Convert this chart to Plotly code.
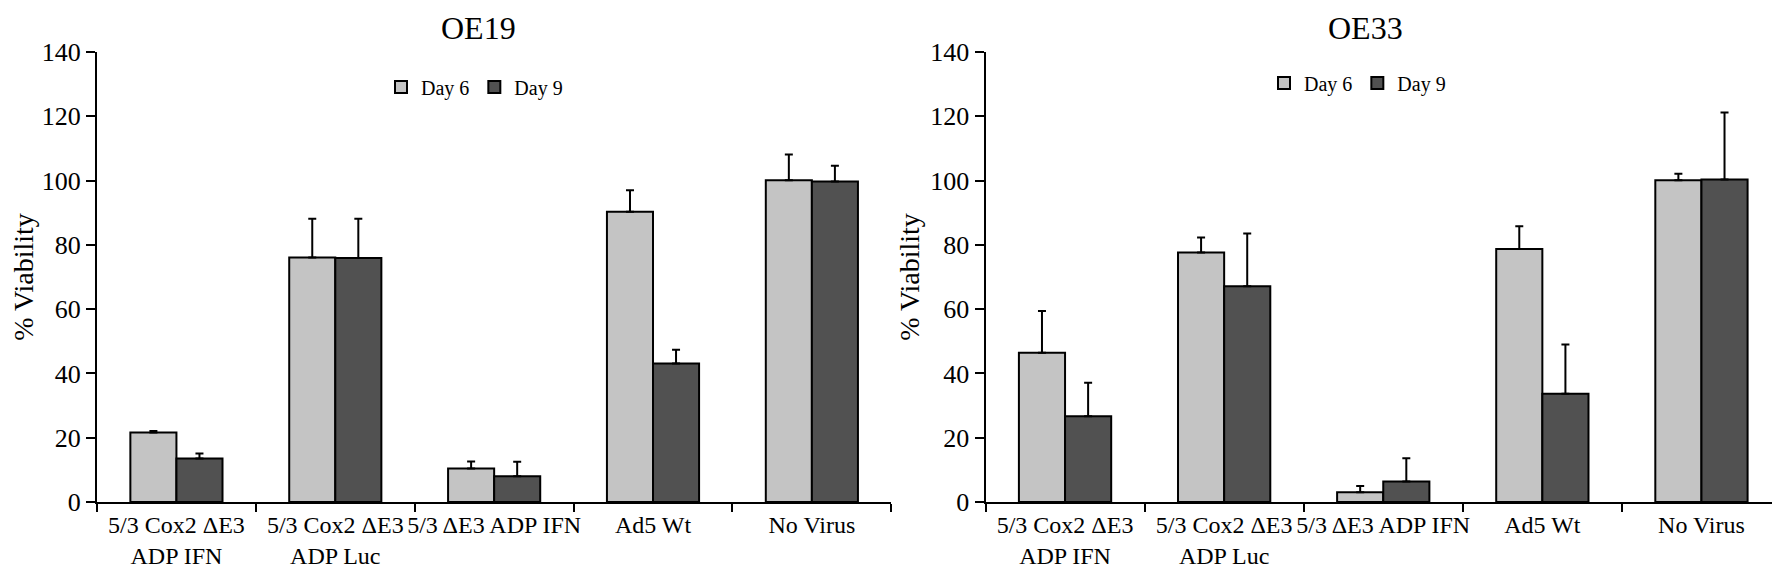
import plotly.graph_objects as go

# ---------------- data ----------------
categories = ["5/3 Cox2 ΔE3<br>ADP IFN", "5/3 Cox2 ΔE3<br>ADP Luc",
              "5/3 ΔE3 ADP IFN", "Ad5 Wt", "No Virus"]
series_names = ["Day 6", "Day 9"]
panel_titles = ["OE19", "OE33"]

oe19_day6 = [21.6, 76.1, 10.4, 90.3, 100.1]
oe19_day6_err = [0.5, 12.0, 2.2, 6.7, 8.0]
oe19_day9 = [13.5, 75.9, 8.0, 43.1, 99.7]
oe19_day9_err = [1.6, 12.2, 4.5, 4.3, 4.9]

oe33_day6 = [46.4, 77.6, 3.0, 78.7, 100.1]
oe33_day6_err = [13.0, 4.7, 2.0, 7.1, 2.0]
oe33_day9 = [26.7, 67.1, 6.4, 33.7, 100.3]
oe33_day9_err = [10.4, 16.4, 7.2, 15.3, 20.9]

y_ticks = [0, 20, 40, 60, 80, 100, 120, 140]
y_title = "% Viability"

# ---------------- style ----------------
W, H = 1780, 575
ML, MR, MT, MB = 89, 7, 44, 81
PW = W - ML - MR
PH = H - MT - MB
FONT = "Liberation Serif"
colors = ["#c4c4c4", "#515151"]

def px_to_paper(px):
    return (px - ML) / PW

def py_to_paper(py):
    return 1 - (py - MT) / PH

dom_left = [0, px_to_paper(883.3)]
dom_right = [px_to_paper(977.5), 1]

fig = go.Figure()

panels = [
    ("x", "y", "legend", [oe19_day6, oe19_day9], [oe19_day6_err, oe19_day9_err]),
    ("x2", "y2", "legend2", [oe33_day6, oe33_day9], [oe33_day6_err, oe33_day9_err]),
]
for xa, ya, lg, vals, errs in panels:
    for i, name in enumerate(series_names):
        fig.add_trace(go.Bar(
            x=categories, y=vals[i], name=name,
            xaxis=xa, yaxis=ya, legend=lg,
            marker=dict(color=colors[i], line=dict(color="black", width=2)),
            error_y=dict(type="data", symmetric=False, array=errs[i],
                         arrayminus=[0] * len(errs[i]),
                         color="black", thickness=2, width=4),
        ))

xaxis_style = dict(
    type="category", showline=True, linecolor="black", linewidth=2,
    ticks="outside", ticklen=8, tickwidth=2, tickcolor="black",
    tickson="boundaries", tickangle=0, showgrid=False, automargin=False,
    tickfont=dict(family=FONT, size=24, color="black"),
)
yaxis_style = dict(
    range=[0, 140], tickvals=y_ticks, showline=True, linecolor="black",
    linewidth=2, ticks="outside", ticklen=9, tickwidth=2, tickcolor="black",
    showgrid=False, zeroline=False, automargin=False,
    tickfont=dict(family=FONT, size=26, color="black"),
    title=dict(text=y_title, font=dict(family=FONT, size=28, color="black"),
               standoff=2),
)

legend_style = dict(
    orientation="h", yanchor="middle", xanchor="left",
    font=dict(family=FONT, size=20, color="black"),
    bgcolor="rgba(0,0,0,0)", itemclick=False, traceorder="normal",
)

fig.update_layout(
    width=W, height=H,
    margin=dict(l=ML, r=MR, t=MT, b=MB),
    paper_bgcolor="white", plot_bgcolor="white",
    barmode="group", bargap=0.42, bargroupgap=0,
    showlegend=True,
    xaxis=dict(domain=dom_left, anchor="y", **xaxis_style),
    yaxis=dict(domain=[0, 1], anchor="x", **yaxis_style),
    xaxis2=dict(domain=dom_right, anchor="y2", **xaxis_style),
    yaxis2=dict(domain=[0, 1], anchor="x2", **yaxis_style),
    legend=dict(x=px_to_paper(373), y=py_to_paper(79), **legend_style),
    legend2=dict(x=px_to_paper(1256), y=py_to_paper(75), **legend_style),
    annotations=[
        dict(text=panel_titles[0], x=px_to_paper(470), y=py_to_paper(20),
             xref="paper", yref="paper", xanchor="center", yanchor="middle",
             showarrow=False, font=dict(family=FONT, size=32, color="black")),
        dict(text=panel_titles[1], x=px_to_paper(1357), y=py_to_paper(20),
             xref="paper", yref="paper", xanchor="center", yanchor="middle",
             showarrow=False, font=dict(family=FONT, size=32, color="black")),
    ],
)

fig.write_html("out.html")
